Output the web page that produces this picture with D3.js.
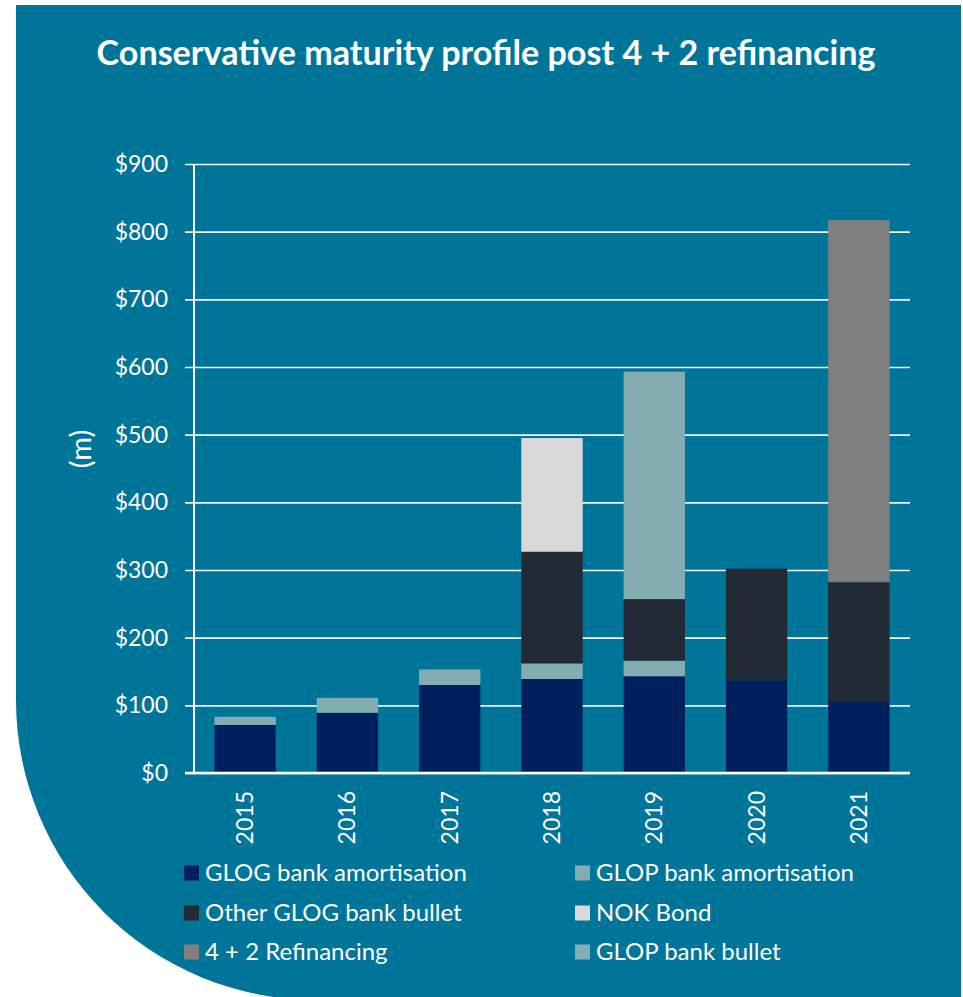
<!DOCTYPE html>
<html>
<head>
<meta charset="utf-8">
<script src="https://cdn.jsdelivr.net/npm/d3@7"></script>
<style>
  html, body { margin: 0; padding: 0; background: #ffffff; }
  svg { display: block; }
</style>
</head>
<body>
<svg width="963" height="997"></svg>
<script>
// years on the x axis
const years = ["2015", "2016", "2017", "2018", "2019", "2020", "2021"];
// series values ($m)
const glogAmort = [71, 89, 130, 139, 143, 137, 106];
const glopAmort = [12, 22, 23, 23, 23, 0, 0];
const otherGlogBullet = [0, 0, 0, 165, 91, 165, 176];
const nokBond = [0, 0, 0, 168, 0, 0, 0];
const refinancing = [0, 0, 0, 0, 0, 0, 535];
const glopBullet = [0, 0, 0, 0, 336, 0, 0];
const seriesNames = ["GLOG bank amortisation", "GLOP bank amortisation", "Other GLOG bank bullet",
                     "NOK Bond", "4 + 2 Refinancing", "GLOP bank bullet"];
const seriesColors = ["#001F5F", "#84ADB2", "#222A35", "#D9D9D9", "#808080", "#84ADB2"];
const yTicks = [0, 100, 200, 300, 400, 500, 600, 700, 800, 900];

const FONT = "Lato, 'Open Sans', sans-serif";
const svg = d3.select("svg");

// teal panel, with big rounded corner bottom left
svg.append("path")
  .attr("d", "M16,5 H961 V1000 H316 A300,300 0 0 1 16,700 Z")
  .attr("fill", "#00759A");

// title, fitted to width
const title = svg.append("text")
  .attr("x", 486).attr("y", 65)
  .attr("text-anchor", "middle")
  .attr("fill", "#ffffff")
  .style("font-family", FONT)
  .style("font-weight", "bold")
  .style("font-size", "30px")
  .text("Conservative maturity profile post 4 + 2 refinancing");
let tw = title.node().getComputedTextLength();
title.style("font-size", (30 * 779 / tw) + "px");

const margin = {left: 194, top: 164, right: 910, bottom: 773};

const x = d3.scaleBand()
  .domain(years)
  .range([margin.left, margin.right])
  .paddingInner(0.4)
  .paddingOuter(0.2);

const y = d3.scaleLinear()
  .domain([0, 900])
  .range([margin.bottom, margin.top]);

// build rows for the stack
const rows = years.map((yr, i) => ({
  year: yr,
  s0: glogAmort[i], s1: glopAmort[i], s2: otherGlogBullet[i],
  s3: nokBond[i], s4: refinancing[i], s5: glopBullet[i]
}));
const keys = ["s0", "s1", "s2", "s3", "s4", "s5"];
const stacked = d3.stack().keys(keys)(rows);

// gridlines + ticks
const yAxis = d3.axisLeft(y)
  .tickValues(yTicks)
  .tickSize(-(margin.right - margin.left))
  .tickFormat(d => "$" + d);

const gy = svg.append("g")
  .attr("transform", `translate(${margin.left},0)`)
  .call(yAxis);
gy.select(".domain").remove();
gy.selectAll(".tick line")
  .attr("x1", -9)
  .attr("stroke", "#eef4f7")
  .attr("stroke-width", 1.6);
gy.selectAll(".tick text")
  .attr("x", -26)
  .attr("fill", "#ffffff")
  .style("font-family", FONT)
  .style("font-size", "23px");

// bars
svg.append("g")
  .selectAll("g")
  .data(stacked)
  .join("g")
  .attr("fill", (d, i) => seriesColors[i])
  .selectAll("rect")
  .data(d => d.filter(p => p[1] - p[0] > 0))
  .join("rect")
  .attr("x", d => x(d.data.year))
  .attr("y", d => y(d[1]))
  .attr("width", x.bandwidth())
  .attr("height", d => y(d[0]) - y(d[1]));

// axis lines
svg.append("line")
  .attr("x1", margin.left).attr("x2", margin.left)
  .attr("y1", margin.top).attr("y2", margin.bottom)
  .attr("stroke", "#ffffff").attr("stroke-width", 2);
svg.append("line")
  .attr("x1", margin.left - 9).attr("x2", margin.right)
  .attr("y1", margin.bottom).attr("y2", margin.bottom)
  .attr("stroke", "#ffffff").attr("stroke-width", 2.5);

// x labels, rotated
svg.append("g")
  .selectAll("text")
  .data(years)
  .join("text")
  .attr("transform", d => `translate(${x(d) + x.bandwidth() / 2},791) rotate(-90)`)
  .attr("text-anchor", "end")
  .attr("dy", "0.35em")
  .attr("fill", "#ffffff")
  .style("font-family", FONT)
  .style("font-size", "23px")
  .text(d => d);

// y axis title
svg.append("text")
  .attr("transform", "translate(81,449) rotate(-90)")
  .attr("text-anchor", "middle")
  .attr("dy", "0.35em")
  .attr("fill", "#ffffff")
  .style("font-family", FONT)
  .style("font-size", "29px")
  .text("(m)");

// legend, two columns
const legendCols = [184, 575];
const legendRows = [873, 913, 952];
const legend = svg.append("g")
  .selectAll("g")
  .data(seriesNames)
  .join("g")
  .attr("transform", (d, i) => `translate(${legendCols[i % 2]},${legendRows[Math.floor(i / 2)]})`);
legend.append("rect")
  .attr("x", 0).attr("y", -7.5)
  .attr("width", 15).attr("height", 15)
  .attr("fill", (d, i) => seriesColors[i]);
legend.append("text")
  .attr("x", 21)
  .attr("dy", "0.35em")
  .attr("fill", "#ffffff")
  .style("font-family", FONT)
  .style("font-size", "24px")
  .text(d => d);
</script>
</body>
</html>
